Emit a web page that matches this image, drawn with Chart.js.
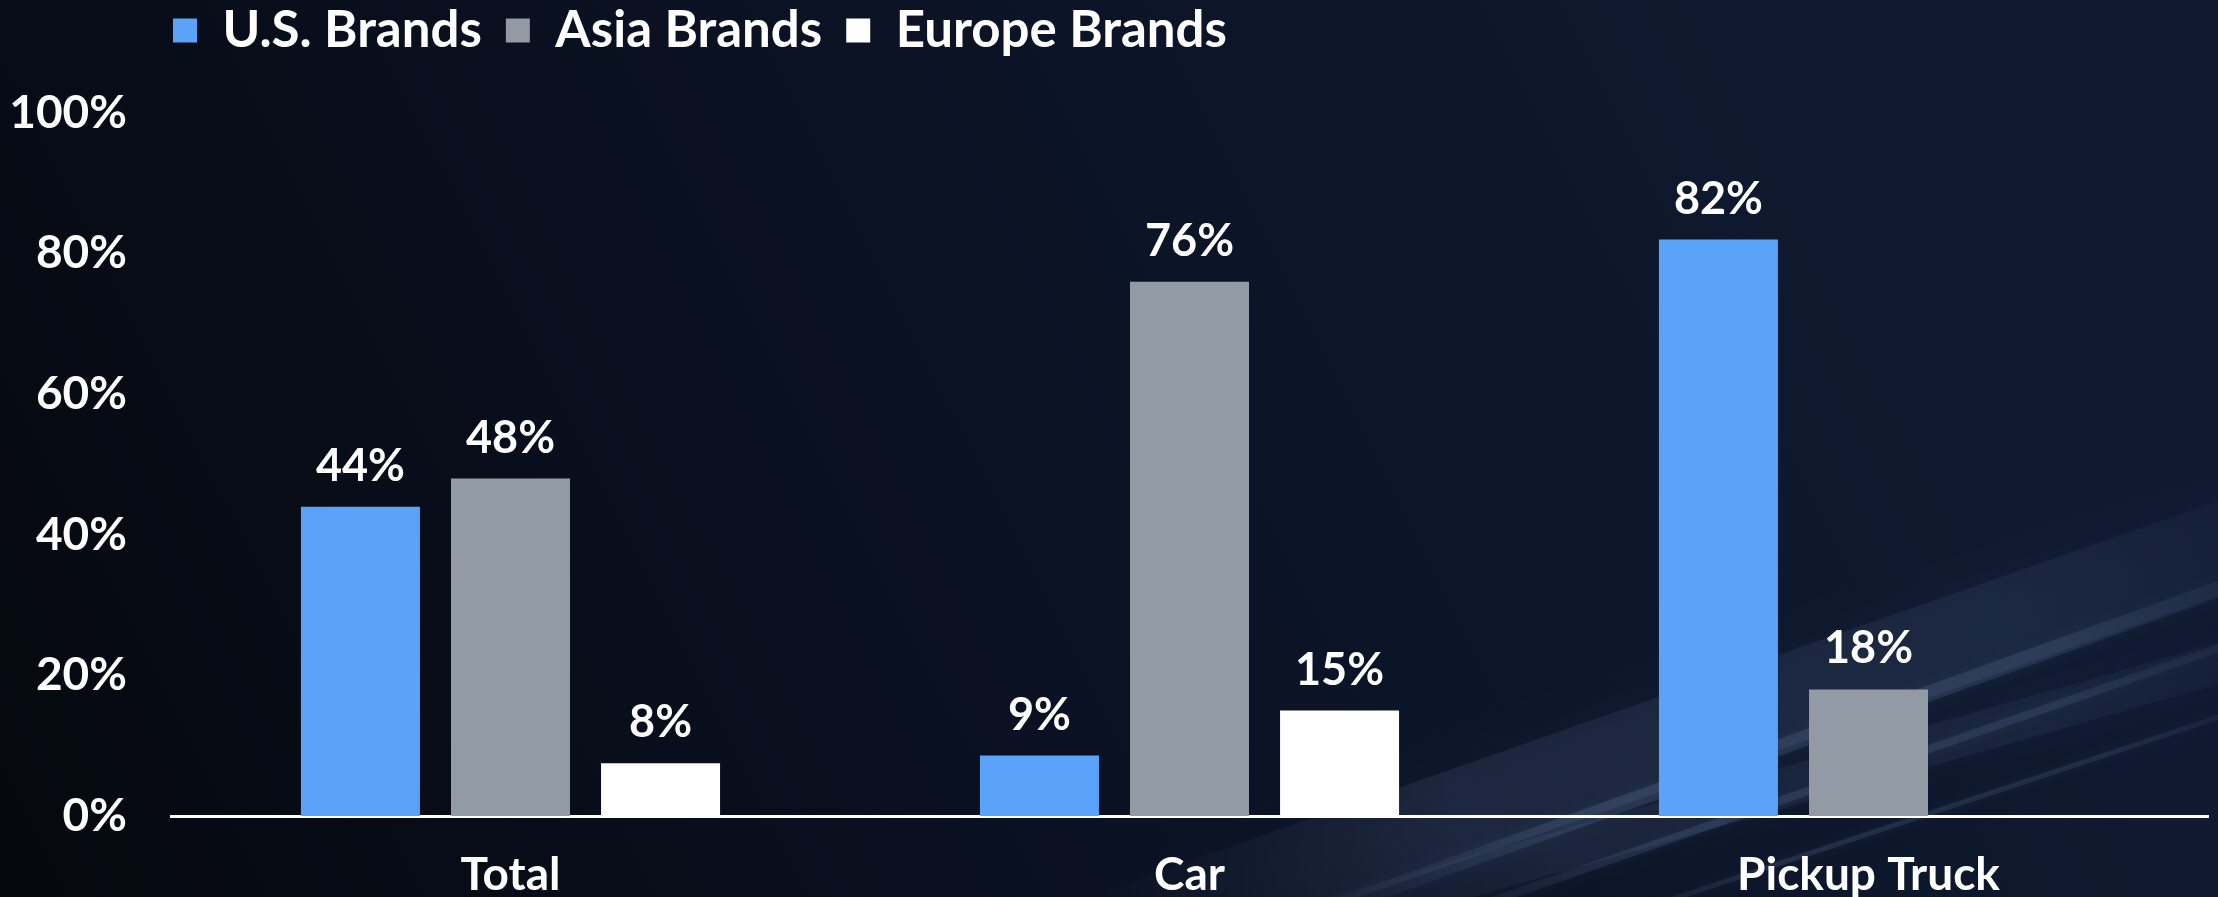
<!DOCTYPE html>
<html>
<head>
<meta charset="utf-8">
<script src="https://cdn.jsdelivr.net/npm/chart.js@4.4.0/dist/chart.umd.min.js"></script>
<style>
  html, body { margin: 0; padding: 0; background: #070b14; }
  #wrap { width: 2218px; height: 897px; }
</style>
</head>
<body>
<div id="wrap"><canvas id="chart" width="2218" height="897"></canvas></div>
<script>
const categories = ["Total", "Car", "Pickup Truck"];
const seriesNames = ["U.S. Brands", "Asia Brands", "Europe Brands"];
const usBrands = [44, 8.6, 82];
const asiaBrands = [48, 76, 18];
const europeBrands = [7.5, 15, null];
const seriesColors = ["#5ba3f8", "#929ba4", "#ffffff"];

const FONT = "Lato, 'Open Sans', sans-serif";

// dark navy backdrop with faint light streaks bottom right
const backdrop = {
  id: "backdrop",
  beforeDraw(chart) {
    const { ctx, width, height } = chart;
    ctx.save();
    const g = ctx.createLinearGradient(0, height, width * 0.8, 0);
    g.addColorStop(0, "#05080e");
    g.addColorStop(0.5, "#0a1122");
    g.addColorStop(1, "#0f1a30");
    ctx.fillStyle = g;
    ctx.fillRect(0, 0, width, height);

    ctx.lineCap = "round";
    const streaks = [
      [1100, 940, 2300, 520, 0.10, 90, 60],
      [1300, 920, 2300, 560, 0.16, 16, 14],
      [1380, 940, 2300, 620, 0.14, 8, 10],
      [1550, 940, 2300, 690, 0.14, 5, 8],
      [1250, 940, 2300, 640, 0.08, 40, 30]
    ];
    streaks.forEach(([x1, y1, x2, y2, a, w, blur]) => {
      const lg = ctx.createLinearGradient(x1, y1, x2, y2);
      lg.addColorStop(0, "rgba(140,170,220,0)");
      lg.addColorStop(0.3, "rgba(140,170,220," + a + ")");
      lg.addColorStop(0.75, "rgba(140,170,220," + a * 0.8 + ")");
      lg.addColorStop(1, "rgba(140,170,220,0.02)");
      ctx.strokeStyle = lg;
      ctx.lineWidth = w;
      ctx.shadowColor = "rgba(140,170,220,0.4)";
      ctx.shadowBlur = blur;
      ctx.beginPath();
      ctx.moveTo(x1, y1);
      ctx.lineTo(x2, y2);
      ctx.stroke();
    });
    ctx.restore();
  }
};

// value labels above every bar
const barLabels = {
  id: "barLabels",
  afterDatasetsDraw(chart) {
    const ctx = chart.ctx;
    ctx.save();
    ctx.font = "bold 45px " + FONT;
    ctx.fillStyle = "#ffffff";
    ctx.textAlign = "center";
    ctx.textBaseline = "bottom";
    chart.data.datasets.forEach((ds, i) => {
      chart.getDatasetMeta(i).data.forEach((bar, j) => {
        const v = ds.data[j];
        if (v == null) return;
        ctx.fillText(Math.round(v) + "%", bar.x, bar.y - 18);
      });
    });
    ctx.restore();
  }
};

// move legend so it lines up with the plot's left edge
const legendShift = {
  id: "legendShift",
  afterLayout(chart) {
    chart.legend.left += 149;
    chart.legend.top -= 47;
  }
};

new Chart(document.getElementById("chart"), {
  type: "bar",
  data: {
    labels: categories,
    datasets: [
      { label: seriesNames[0], data: usBrands, backgroundColor: seriesColors[0] },
      { label: seriesNames[1], data: asiaBrands, backgroundColor: seriesColors[1] },
      { label: seriesNames[2], data: europeBrands, backgroundColor: seriesColors[2] }
    ]
  },
  options: {
    responsive: false,
    animation: false,
    devicePixelRatio: 1,
    datasets: { bar: { categoryPercentage: 0.663, barPercentage: 0.793 } },
    layout: { padding: { top: 28, right: 10, bottom: 0, left: 0 } },
    plugins: {
      legend: {
        align: "start",
        labels: {
          color: "#ffffff",
          font: { family: FONT, size: 51, weight: "bold" },
          boxWidth: 24,
          boxHeight: 24,
          padding: 24
        }
      },
      tooltip: { enabled: false }
    },
    scales: {
      x: {
        grid: { display: false },
        border: { color: "#ffffff", width: 3 },
        ticks: {
          color: "#ffffff",
          font: { family: FONT, size: 46, weight: "bold" },
          padding: 24
        },
        afterFit(scale) { scale.height = 81; }
      },
      y: {
        min: 0,
        max: 100,
        grid: { display: false },
        border: { display: false },
        ticks: {
          stepSize: 20,
          color: "#ffffff",
          font: { family: FONT, size: 46, weight: "bold" },
          padding: 36,
          callback: (v) => v + "%"
        },
        afterFit(scale) { scale.width = 171; }
      }
    }
  },
  plugins: [backdrop, barLabels, legendShift]
});
</script>
</body>
</html>
